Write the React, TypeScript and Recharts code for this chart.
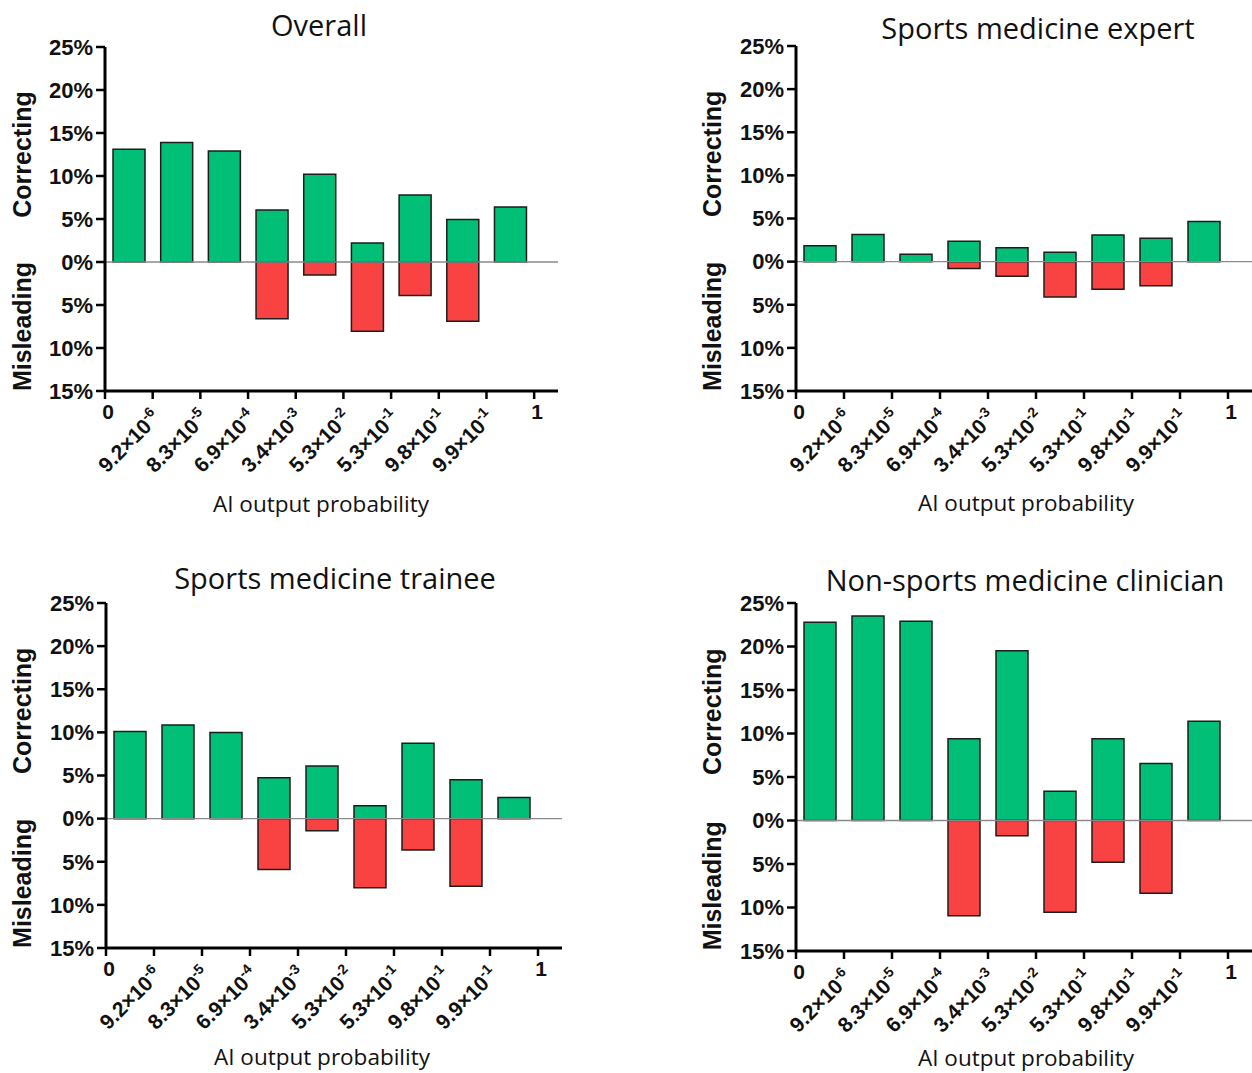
import React from "react";
import { BarChart, Bar, XAxis, YAxis, ReferenceLine, Label } from "recharts";

// bin index (centre of each probability interval) and the labels at the bin edges
const BIN_CENTERS = [0.5, 1.5, 2.5, 3.5, 4.5, 5.5, 6.5, 7.5, 8.5];
const EDGE_TICKS = [0, 1, 2, 3, 4, 5, 6, 7, 8, 9];
const TICK_BASE = ["0", "9.2×10", "8.3×10", "6.9×10", "3.4×10", "5.3×10", "5.3×10", "9.8×10", "9.9×10", "1"];
const TICK_EXP = ["", "-6", "-5", "-4", "-3", "-2", "-1", "-1", "-1", ""];
const Y_TICKS = [-15, -10, -5, 0, 5, 10, 15, 20, 25];

// % of answers corrected / misled, per AI output probability bin
const overallCorrecting = [13.1, 13.9, 12.9, 6.05, 10.2, 2.2, 7.8, 4.95, 6.4];
const overallMisleading = [0, 0, 0, 6.6, 1.5, 8.05, 3.9, 6.9, 0];
const expertCorrecting = [1.85, 3.15, 0.85, 2.35, 1.6, 1.1, 3.1, 2.7, 4.65];
const expertMisleading = [0, 0, 0, 0.8, 1.7, 4.1, 3.2, 2.8, 0];
const traineeCorrecting = [10.1, 10.85, 10.0, 4.75, 6.1, 1.5, 8.75, 4.5, 2.45];
const traineeMisleading = [0, 0, 0, 5.9, 1.4, 8.0, 3.65, 7.85, 0];
const clinicianCorrecting = [22.8, 23.5, 22.9, 9.4, 19.5, 3.35, 9.4, 6.55, 11.4];
const clinicianMisleading = [0, 0, 0, 10.95, 1.75, 10.55, 4.8, 8.35, 0];

const GREEN = "#02bf78";
const RED = "#f94242";
const TICK_FONT = "'Liberation Sans', Arial, sans-serif";
const TITLE_FONT = "'Open Sans', 'Noto Sans', sans-serif";

type PanelProps = {
  title: string;
  correcting: number[];
  misleading: number[];
  left: number;
  top: number;
  width: number;
  height: number;
  marginTop: number;
  marginRight: number;
  yAxisWidth: number;
  xAxisHeight: number;
  titleX: number;
  titleY: number;
  xTitleX: number;
  xTitleY: number;
};

const XTick = (props: any) => {
  const { x, y, payload } = props;
  const i = payload.value as number;
  if (!TICK_EXP[i]) {
    return (
      <text x={x + 3} y={y + 18} textAnchor="middle" fontFamily={TICK_FONT} fontWeight="bold" fontSize={21} fill="#111">
        {TICK_BASE[i]}
      </text>
    );
  }
  return (
    <g transform={`translate(${x + 9},${y + 18}) rotate(-45)`}>
      <text x={0} y={0} textAnchor="end" fontFamily={TICK_FONT} fontWeight="bold" fontSize={21} fill="#111">
        <tspan>{TICK_BASE[i]}</tspan>
        <tspan dy={-9} fontSize={14}>{TICK_EXP[i]}</tspan>
      </text>
    </g>
  );
};

// "Correcting" centred on the 0–25% half, "Misleading" on the 0–15% half
const SideLabels = (props: any) => {
  const { x, y, height } = props.viewBox;
  const cx = x + 22;
  const yc = y + height * 0.3125;
  const ym = y + height * 0.8125;
  const style = { fontFamily: TICK_FONT, fontWeight: "bold" as const, fontSize: 25, fill: "#111" };
  return (
    <g>
      <text x={cx} y={yc} transform={`rotate(-90 ${cx} ${yc})`} textAnchor="middle" dominantBaseline="central" {...style}>
        Correcting
      </text>
      <text x={cx} y={ym} transform={`rotate(-90 ${cx} ${ym})`} textAnchor="middle" dominantBaseline="central" {...style}>
        Misleading
      </text>
    </g>
  );
};

const Panel = (p: PanelProps) => {
  const data = BIN_CENTERS.map((bin, i) => ({
    bin,
    correcting: p.correcting[i],
    misleading: -p.misleading[i],
  }));

  return (
    <>
      <div
        style={{
          position: "absolute",
          left: p.titleX - 300,
          top: p.titleY - 20,
          width: 600,
          lineHeight: "40px",
          textAlign: "center",
          fontFamily: TITLE_FONT,
          fontSize: 29,
          color: "#111",
        }}
      >
        {p.title}
      </div>
      <div style={{ position: "absolute", left: p.left, top: p.top }}>
        <BarChart
          width={p.width}
          height={p.height}
          data={data}
          margin={{ top: p.marginTop, right: p.marginRight, bottom: 0, left: 0 }}
          stackOffset="sign"
          barSize={32}
        >
          <XAxis
            type="number"
            dataKey="bin"
            domain={[0, 9.5]}
            ticks={EDGE_TICKS}
            interval={0}
            allowDataOverflow
            height={p.xAxisHeight}
            tick={<XTick />}
            tickSize={8}
            axisLine={{ stroke: "#000", strokeWidth: 3 }}
            tickLine={{ stroke: "#000", strokeWidth: 2.5 }}
          />
          <YAxis
            type="number"
            domain={[-15, 25]}
            ticks={Y_TICKS}
            interval={0}
            width={p.yAxisWidth}
            tickSize={9}
            tickMargin={3}
            tickFormatter={(v: number) => `${Math.abs(v)}%`}
            tick={{ fontFamily: TICK_FONT, fontWeight: "bold", fontSize: 22, fill: "#111" }}
            axisLine={{ stroke: "#000", strokeWidth: 3 }}
            tickLine={{ stroke: "#000", strokeWidth: 2.5 }}
          >
            <Label content={<SideLabels />} />
          </YAxis>
          <Bar dataKey="correcting" stackId="s" fill={GREEN} stroke="#1d1d1d" strokeWidth={1.5} isAnimationActive={false} />
          <Bar dataKey="misleading" stackId="s" fill={RED} stroke="#1d1d1d" strokeWidth={1.5} isAnimationActive={false} />
          <ReferenceLine y={0} stroke="#8a8a8a" strokeWidth={1.3} />
        </BarChart>
      </div>
      <div
        style={{
          position: "absolute",
          left: p.xTitleX - 200,
          top: p.xTitleY - 15,
          width: 400,
          lineHeight: "30px",
          textAlign: "center",
          fontFamily: TITLE_FONT,
          fontSize: 22.5,
          color: "#111",
        }}
      >
        AI output probability
      </div>
    </>
  );
};

export default function App() {
  return (
    <div style={{ position: "absolute", left: 0, top: 0, width: 1252, height: 1073, background: "#fff", overflow: "hidden" }}>
      <Panel
        title="Overall"
        correcting={overallCorrecting}
        misleading={overallMisleading}
        left={0}
        top={0}
        width={565}
        height={530}
        marginTop={47}
        marginRight={7}
        yAxisWidth={105}
        xAxisHeight={139}
        titleX={319}
        titleY={25}
        xTitleX={321}
        xTitleY={504}
      />
      <Panel
        title="Sports medicine expert"
        correcting={expertCorrecting}
        misleading={expertMisleading}
        left={690}
        top={0}
        width={562}
        height={530}
        marginTop={46}
        marginRight={0}
        yAxisWidth={106}
        xAxisHeight={139}
        titleX={1038}
        titleY={28}
        xTitleX={1026}
        xTitleY={503}
      />
      <Panel
        title="Sports medicine trainee"
        correcting={traineeCorrecting}
        misleading={traineeMisleading}
        left={0}
        top={550}
        width={565}
        height={523}
        marginTop={53}
        marginRight={3}
        yAxisWidth={106}
        xAxisHeight={125}
        titleX={335}
        titleY={578}
        xTitleX={322}
        xTitleY={1057}
      />
      <Panel
        title="Non-sports medicine clinician"
        correcting={clinicianCorrecting}
        misleading={clinicianMisleading}
        left={690}
        top={550}
        width={562}
        height={523}
        marginTop={53}
        marginRight={0}
        yAxisWidth={106}
        xAxisHeight={122}
        titleX={1025}
        titleY={580}
        xTitleX={1026}
        xTitleY={1058}
      />
    </div>
  );
}
